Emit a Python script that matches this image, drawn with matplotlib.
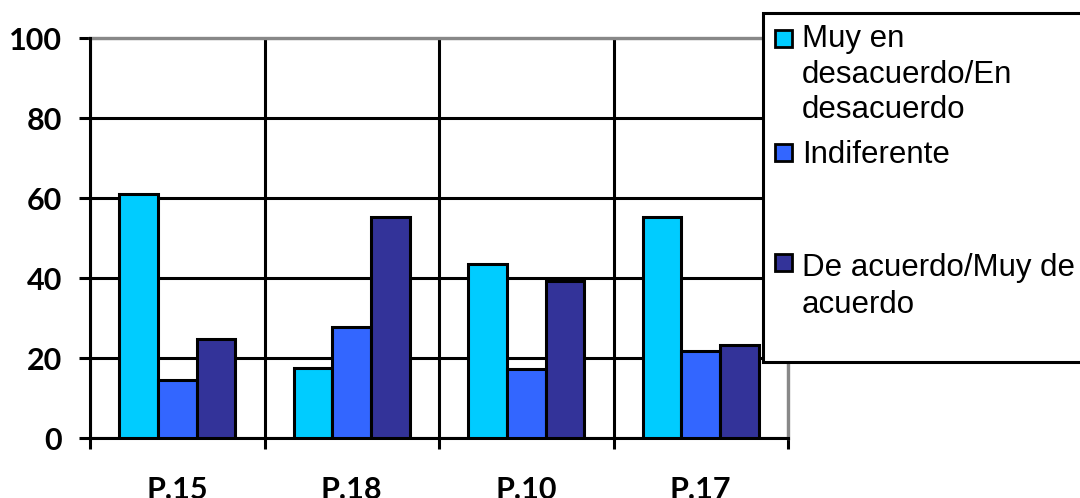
import numpy as np
import matplotlib.pyplot as plt
from matplotlib.patches import Rectangle

categories = ["P.15", "P.18", "P.10", "P.17"]
series_names = ["Muy en\ndesacuerdo/En\ndesacuerdo", "Indiferente", "De acuerdo/Muy de\nacuerdo"]
desacuerdo = [61, 17.5, 43.5, 55.3]
indiferente = [14.5, 27.7, 17.3, 21.7]
acuerdo = [24.7, 55.2, 39.2, 23.3]
colors = ["#00CCFF", "#3366FF", "#333399"]

W, H = 1080, 498
fig = plt.figure(figsize=(W / 100, H / 100), dpi=100)
ax = fig.add_axes([90 / W, 1 - 438 / H, 698 / W, 400 / H])

x = np.arange(len(categories))
w = 0.222
for i, (vals, c) in enumerate(zip([desacuerdo, indiferente, acuerdo], colors)):
    ax.bar(x + (i - 1) * w, vals, width=w, color=c, edgecolor="black",
           linewidth=2.2, zorder=3)

ax.set_xlim(-0.5, len(categories) - 0.5)
ax.set_ylim(0, 100)
ax.set_yticks(range(0, 101, 20))
# major ticks sit on the category boundaries, labels on the minor ticks
ax.set_xticks(np.arange(len(categories) + 1) - 0.5)
ax.set_xticklabels([])
ax.set_xticks(x, minor=True)
ax.set_xticklabels(categories, minor=True)
ax.tick_params(axis="x", which="minor", length=0, pad=27.5)
ax.tick_params(axis="both", which="major", length=8, width=2.2, color="black")
ax.tick_params(axis="y", pad=12)

for lab in ax.get_yticklabels() + ax.get_xticklabels(minor=True):
    lab.set_fontfamily("Lato")
    lab.set_fontweight("bold")
    lab.set_fontsize(22)

ax.grid(True, which="major", color="black", linewidth=2.2, zorder=1)
for side in ["left", "bottom"]:
    ax.spines[side].set_linewidth(2.2)
    ax.spines[side].set_color("black")
for side in ["top", "right"]:
    ax.spines[side].set_linewidth(2.4)
    ax.spines[side].set_color("#888888")
    ax.spines[side].set_zorder(2)

# legend box drawn by hand
box = Rectangle((763 / W, 1 - 362 / H), 330 / W, 349 / H,
                transform=fig.transFigure, facecolor="white", edgecolor="black",
                linewidth=2.2, zorder=10, clip_on=False)
fig.add_artist(box)
square_top = [30, 144, 254]
baselines = [[47, 83, 118], [163], [276, 313]]
for name, c, sy, bl in zip(series_names, colors, square_top, baselines):
    sq = Rectangle((775 / W, 1 - (sy + 17) / H), 17 / W, 17 / H,
                   transform=fig.transFigure, facecolor=c, edgecolor="black",
                   linewidth=2.0, zorder=11)
    fig.add_artist(sq)
    for line, yb in zip(name.split("\n"), bl):
        fig.text(802 / W, 1 - yb / H, line, ha="left", va="baseline",
                 family="Liberation Sans", fontsize=22.5, zorder=12)

fig.savefig("out.png", dpi=100)
